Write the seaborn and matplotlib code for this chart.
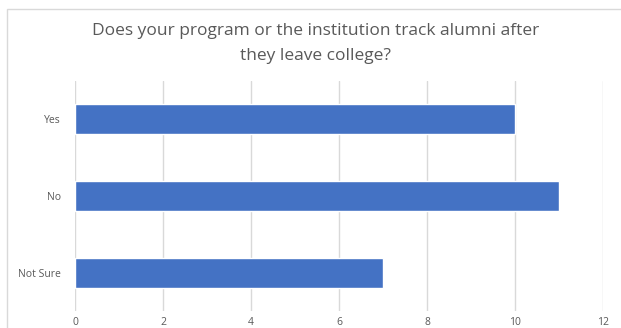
import matplotlib
matplotlib.use("Agg")
import matplotlib.pyplot as plt
import seaborn as sns
import pandas as pd
from matplotlib.patches import Rectangle

categories = ["Yes", "No", "Not Sure"]
counts = [10, 11, 7]
x_ticks = [0, 2, 4, 6, 8, 10, 12]
title = "Does your program or the institution track alumni after\nthey leave college?"

sns.set_theme(style="white")
plt.rcParams['font.family'] = ['Open Sans', 'DejaVu Sans']

df = pd.DataFrame({"category": categories, "count": counts})

fig = plt.figure(figsize=(6.21, 3.28), dpi=100)
ax = fig.add_axes([75/621, 1-311/328, (603-75)/621, (311-81)/328])

sns.barplot(data=df, y="category", x="count", orient="h", color="#4472C4",
            width=0.39, saturation=1, ax=ax, zorder=3)

ax.set_xlim(0, 12)
ax.set_ylim(2.5, -0.5)
ax.set_xticks(x_ticks)
ax.set_xticklabels([str(t) for t in x_ticks])
ax.xaxis.grid(True, color="#d9d9d9", linewidth=1, zorder=0)
ax.set_axisbelow(True)
for s in ax.spines.values():
    s.set_visible(False)
ax.tick_params(axis="both", length=0, colors="#595959", labelsize=7.5)
ax.tick_params(axis="x", pad=4)
ax.tick_params(axis="y", pad=10)
ax.set_xlabel("")
ax.set_ylabel("")

fig.text(316/621, 1-43.5/328, title, ha="center", va="center", fontsize=12.5,
         color="#595959", linespacing=1.7)

fig.patches.append(Rectangle((7/621, -0.1), 1.2, 1-9/328+0.1, transform=fig.transFigure,
                             fill=False, edgecolor="#d9d9d9", linewidth=1))

fig.savefig("out.png", dpi=100)
